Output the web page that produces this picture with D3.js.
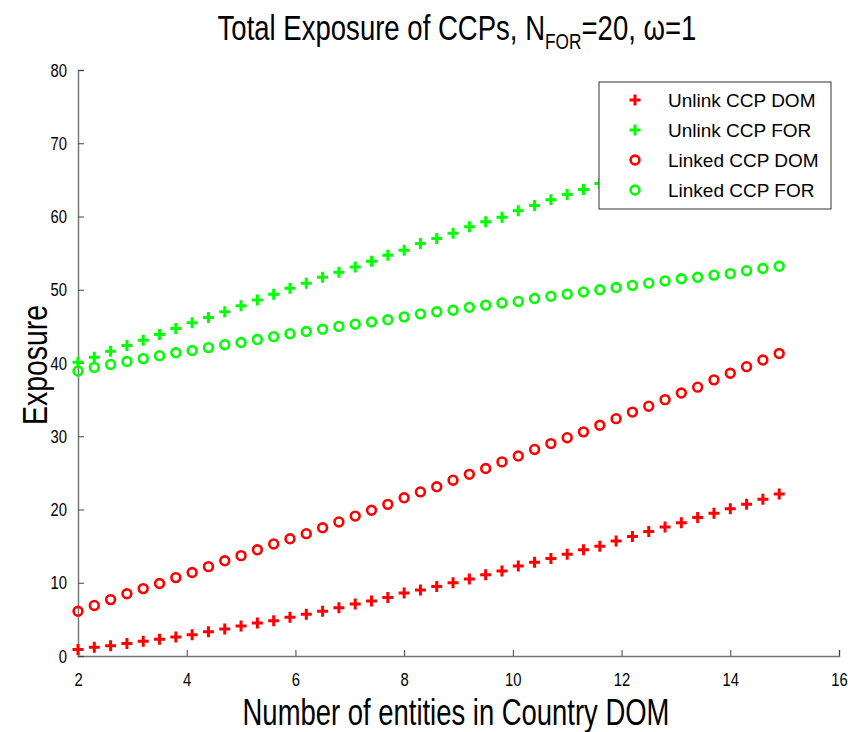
<!DOCTYPE html>
<html>

<head>
    <meta charset="utf-8">
    <title>Total Exposure of CCPs</title>
    <script src="https://d3js.org/d3.v7.min.js"></script>
    <style>
        html,
        body {
            margin: 0;
            padding: 0;
            background: white;
        }

        text {
            font-family: "Liberation Sans", Arial, sans-serif;
            fill: black;
        }
    </style>
</head>

<body>

    <div id="chart"></div>

    <script>
        // number of entities in country DOM (x axis)
        const entities = [2.0, 2.3, 2.6, 2.9, 3.2, 3.5, 3.8, 4.1, 4.4, 4.7, 5.0, 5.3, 5.6, 5.9, 6.2, 6.5,
            6.8, 7.1, 7.4, 7.7, 8.0, 8.3, 8.6, 8.9, 9.2, 9.5, 9.8, 10.1, 10.4, 10.7, 11.0, 11.3,
            11.6, 11.9, 12.2, 12.5, 12.8, 13.1, 13.4, 13.7, 14.0, 14.3, 14.6, 14.9];

        // exposure values
        const unlinkDom = [0.9, 1.2, 1.4, 1.7, 2.0, 2.3, 2.6, 2.9, 3.3, 3.7, 4.1, 4.5, 4.8, 5.3, 5.7, 6.1,
            6.6, 7.1, 7.5, 8.0, 8.6, 9.0, 9.5, 10.0, 10.5, 11.1, 11.6, 12.3, 12.8, 13.3, 13.9, 14.5,
            15.0, 15.7, 16.3, 17.0, 17.6, 18.2, 18.9, 19.5, 20.1, 20.7, 21.4, 22.1];
        const unlinkFor = [40.1, 40.8, 41.6, 42.4, 43.1, 43.9, 44.7, 45.5, 46.2, 47.0, 47.8, 48.6, 49.4, 50.2, 50.9, 51.7,
            52.4, 53.1, 53.9, 54.7, 55.4, 56.3, 57.0, 57.7, 58.6, 59.3, 59.9, 60.8, 61.5, 62.3, 63.0, 63.7,
            64.5, 65.2, 66.0, 66.7, 67.5, 68.2, 69.0, 69.7, 70.5, 71.2, 72.0, 72.7];
        const linkedDom = [6.1, 6.9, 7.7, 8.5, 9.2, 9.9, 10.7, 11.4, 12.2, 13.0, 13.7, 14.5, 15.3, 16.0, 16.7, 17.5,
            18.3, 19.1, 19.9, 20.7, 21.6, 22.4, 23.1, 24.0, 24.8, 25.6, 26.5, 27.3, 28.2, 29.0, 29.8, 30.6,
            31.5, 32.4, 33.3, 34.1, 35.0, 35.9, 36.7, 37.7, 38.6, 39.5, 40.4, 41.3];
        const linkedFor = [38.9, 39.4, 39.8, 40.2, 40.6, 41.0, 41.4, 41.7, 42.1, 42.5, 42.8, 43.2, 43.6, 44.0, 44.3, 44.6,
            45.0, 45.3, 45.6, 45.9, 46.3, 46.7, 47.0, 47.2, 47.6, 47.9, 48.2, 48.4, 48.8, 49.1, 49.4, 49.7,
            50.0, 50.3, 50.6, 50.9, 51.2, 51.5, 51.7, 52.0, 52.2, 52.6, 52.9, 53.2];

        const xTicks = [2, 4, 6, 8, 10, 12, 14, 16];
        const yTicks = [0, 10, 20, 30, 40, 50, 60, 70, 80];

        const seriesNames = ["Unlink CCP DOM", "Unlink CCP FOR", "Linked CCP DOM", "Linked CCP FOR"];
        const seriesColors = ["#ff0000", "#00ff00", "#ff0000", "#00ff00"];
        const seriesMarkers = ["plus", "plus", "circle", "circle"];
        const seriesValues = [unlinkDom, unlinkFor, linkedDom, linkedFor];

        const W = 848, H = 732;
        const margins = { top: 70, right: 9, bottom: 76, left: 78 };
        const width = W - margins.left - margins.right;
        const height = H - margins.top - margins.bottom;

        const svg = d3.select("#chart")
            .append("svg")
            .attr("width", W)
            .attr("height", H);

        svg.append("rect")
            .attr("width", W)
            .attr("height", H)
            .attr("fill", "white");

        const g = svg.append("g")
            .attr("transform", `translate(${margins.left},${margins.top})`);

        const x = d3.scaleLinear().domain([2, 16]).range([0, width]);
        const y = d3.scaleLinear().domain([0, 80]).range([height, 0]);

        // axes, MATLAB style: ticks pointing inward
        const xAxis = g.append("g")
            .attr("transform", `translate(0,${height})`)
            .call(d3.axisBottom(x).tickValues(xTicks).tickSize(-6).tickPadding(17).tickFormat(d3.format("d")));
        const yAxis = g.append("g")
            .call(d3.axisLeft(y).tickValues(yTicks).tickSize(-6).tickPadding(11).tickFormat(d3.format("d")));

        [xAxis, yAxis].forEach(ax => {
            ax.select(".domain").attr("stroke", "#777").attr("stroke-width", 1.5);
            ax.selectAll(".tick line").attr("stroke", "#444");
            ax.selectAll(".tick text")
                .style("font-size", "19px")
                .attr("fill", "black");
        });
        // narrow digits like the original rendering
        xAxis.selectAll(".tick text").attr("transform", "scale(0.78,1)");
        yAxis.selectAll(".tick text").attr("x", -11 / 0.78).attr("transform", "scale(0.78,1)");

        // markers
        const plusPath = "M-5.5,0H5.5M0,-5.5V5.5";
        seriesValues.forEach((vals, s) => {
            const pts = vals.map((v, i) => ({ x: entities[i], y: v }));
            const layer = g.append("g");
            if (seriesMarkers[s] === "plus") {
                layer.selectAll("path")
                    .data(pts)
                    .enter()
                    .append("path")
                    .attr("d", plusPath)
                    .attr("transform", d => `translate(${x(d.x)},${y(d.y)})`)
                    .attr("stroke", seriesColors[s])
                    .attr("stroke-width", 3)
                    .attr("fill", "none");
            } else {
                layer.selectAll("circle")
                    .data(pts)
                    .enter()
                    .append("circle")
                    .attr("cx", d => x(d.x))
                    .attr("cy", d => y(d.y))
                    .attr("r", 4.4)
                    .attr("stroke", seriesColors[s])
                    .attr("stroke-width", 2.6)
                    .attr("fill", "none");
            }
        });

        // legend (opaque, covers the points behind it)
        const legend = svg.append("g").attr("transform", "translate(599,82)");
        legend.append("rect")
            .attr("width", 232)
            .attr("height", 127)
            .attr("fill", "white")
            .attr("stroke", "#333")
            .attr("stroke-width", 1);

        seriesNames.forEach((name, s) => {
            const row = legend.append("g").attr("transform", `translate(0,${18 + s * 30})`);
            if (seriesMarkers[s] === "plus") {
                row.append("path")
                    .attr("d", plusPath)
                    .attr("transform", "translate(36,0)")
                    .attr("stroke", seriesColors[s])
                    .attr("stroke-width", 3);
            } else {
                row.append("circle")
                    .attr("cx", 36)
                    .attr("r", 4.4)
                    .attr("stroke", seriesColors[s])
                    .attr("stroke-width", 2.6)
                    .attr("fill", "none");
            }
            row.append("text")
                .attr("x", 69)
                .attr("y", 7)
                .style("font-size", "19px")
                .text(name);
        });

        // squeeze a label horizontally so it spans the given width
        function fitWidth(sel, cx, cy, target, rotate) {
            const w = sel.node().getBBox().width;
            const k = target / w;
            sel.attr("transform", `translate(${cx},${cy})` + (rotate ? " rotate(-90)" : "") + ` scale(${k},1)`);
        }

        // title
        const title = svg.append("text")
            .attr("text-anchor", "middle")
            .style("font-size", "35px");
        title.append("tspan").text("Total Exposure of CCPs, N");
        title.append("tspan").text("FOR").style("font-size", "22px").attr("dy", 9);
        title.append("tspan").text("=20, ω=1").attr("dy", -9);
        fitWidth(title, 457, 40, 479, false);

        // axis labels
        const xLabel = svg.append("text")
            .attr("text-anchor", "middle")
            .style("font-size", "36px")
            .text("Number of entities in Country DOM");
        fitWidth(xLabel, 456, 725, 427, false);

        const yLabel = svg.append("text")
            .attr("text-anchor", "middle")
            .style("font-size", "36px")
            .text("Exposure");
        fitWidth(yLabel, 47, 365, 120, true);
    </script>
</body>

</html>
